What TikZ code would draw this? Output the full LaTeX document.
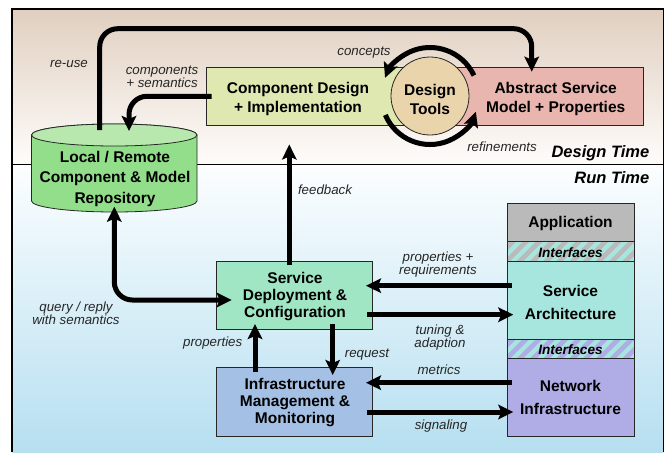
\documentclass[tikz,border=0pt]{standalone}
\usepackage{fontspec}
\setmainfont{Liberation Sans}
\usetikzlibrary{arrows.meta,calc}
\definecolor{timeA}{RGB}{224,207,192}
\definecolor{timeB}{RGB}{254,252,250}
\definecolor{runA}{RGB}{252,254,255}
\definecolor{runB}{RGB}{182,223,240}
\definecolor{compC}{RGB}{222,232,176}
\definecolor{absC}{RGB}{232,182,174}
\definecolor{toolC}{RGB}{234,212,172}
\definecolor{repoC}{RGB}{146,222,138}
\definecolor{repoT}{RGB}{184,232,174}
\definecolor{depC}{RGB}{160,230,196}
\definecolor{infC}{RGB}{164,192,228}
\definecolor{appC}{RGB}{186,186,186}
\definecolor{arcC}{RGB}{166,230,222}
\definecolor{netC}{RGB}{176,172,230}
\tikzset{
  x=1pt,y=1pt,
  box/.style={draw=black!85,line width=0.8pt,inner sep=0pt,outer sep=0pt,anchor=north west},
  title/.style={font=\fontsize{15.5}{#1}\selectfont\bfseries,align=center,inner sep=0pt,yshift=-1.2pt},
  title/.default=19,
  note/.style={font=\fontsize{13.3}{13}\selectfont\itshape,align=center,inner sep=0pt,text=black!85,yshift=-1.2pt},
  zone/.style={font=\fontsize{16.5}{17}\selectfont\bfseries\itshape,inner sep=0pt,anchor=east},
  iface/.style={font=\fontsize{13.6}{14}\selectfont\bfseries\itshape,inner sep=0pt,yshift=-0.6pt},
  flow/.style={line width=5pt,rounded corners=18pt,-{Stealth[length=15pt,width=14.5pt,inset=3pt]}},
  flowboth/.style={line width=5pt,rounded corners=18pt,{Stealth[length=15pt,width=14.5pt,inset=3pt]}-{Stealth[length=15pt,width=14.5pt,inset=3pt]}},
}
\begin{document}
\begin{tikzpicture}
\useasboundingbox (0,0) rectangle (668,-452);
\fill[white] (0,0) rectangle (668,-452);
% backgrounds
\shade[top color=timeA,bottom color=timeB] (12,-9) rectangle (663.5,-164);
\shade[top color=runA,bottom color=runB] (12,-164) rectangle (663.5,-452);
\draw[line width=0.8pt] (12,-164) -- (663.5,-164);
\draw[line width=1.6pt] (12,-452) -- (12,-9) -- (663.5,-9) -- (663.5,-452);
% boxes of the design row
\node[box,fill=compC,minimum width=224pt,minimum height=58.5pt] (comp) at (206.5,-67) {};
\node[box,fill=absC,minimum width=213.7pt,minimum height=58.5pt] (abs) at (430,-67) {};
\node[title] (compT) at (298,-98) {Component Design\\+ Implementation};
\node[title] (absT) at (555.7,-98) {Abstract Service\\Model + Properties};
\node[circle,draw=black!85,line width=0.8pt,fill=toolC,minimum size=78pt,inner sep=0pt] (tools) at (430,-96) {};
\node[title] (toolsT) at (430,-98) {Design\\Tools};
% repository
\draw[draw=black!85,line width=0.8pt,fill=repoC] (31.5,-135) -- (31.5,-201) arc[start angle=180,end angle=360,x radius=82.75pt,y radius=11pt] -- (197,-135) arc[start angle=0,end angle=180,x radius=82.75pt,y radius=11pt] -- cycle;
\draw[draw=black!85,line width=0.8pt,fill=repoT] (114.25,-135) ellipse[x radius=82.75pt,y radius=11pt];
\node[title=20.5] (repo) at (115,-177.5) {Local / Remote\\Component \& Model\\Repository};
% run time boxes
\node[box,fill=depC,minimum width=155.5pt,minimum height=68pt] (dep) at (216.5,-261.5) {};
\node[title=17] (depT) at (295,-295) {Service\\Deployment \&\\Configuration};
\node[box,fill=infC,minimum width=155.5pt,minimum height=68.3pt] (inf) at (216.5,-367.7) {};
\node[title=17] (infT) at (295,-401.2) {Infrastructure\\Management \&\\Monitoring};
% stack
\node[box,fill=appC,minimum width=126.7pt,minimum height=38.4pt] (app) at (507.3,-203.3) {};
\node[title] (appT) at (570.5,-222.5) {Application};
\node[box,fill=arcC,minimum width=126.7pt,minimum height=77.7pt] (arc) at (507.3,-261.3) {};
\node[title=23] (arcT) at (570.5,-301.5) {Service\\Architecture};
\node[box,fill=netC,minimum width=126.7pt,minimum height=77.3pt] (net) at (507.3,-358.7) {};
\node[title=23] (netT) at (570.5,-396.5) {Network\\Infrastructure};
% interface strips
\begin{scope}
\clip (507.3,-241.7) rectangle (634,-261.3);
\fill[arcC] (507.3,-241.7) rectangle (634,-261.3);
\foreach \i in {0,...,12}
  \fill[appC] (490+13.2*\i,-261.3) -- ++(6.6,0) -- ++(19.6,19.6) -- ++(-6.6,0) -- cycle;
\end{scope}
\begin{scope}
\clip (507.3,-339) rectangle (634,-358.7);
\fill[arcC] (507.3,-339) rectangle (634,-358.7);
\foreach \i in {0,...,12}
  \fill[netC] (490+13.2*\i,-358.7) -- ++(6.6,0) -- ++(19.7,19.7) -- ++(-6.7,0) -- cycle;
\end{scope}
\draw[draw=black!85,line width=0.8pt] (507.3,-241.7) rectangle (634,-261.3);
\draw[draw=black!85,line width=0.8pt] (507.3,-339) rectangle (634,-358.7);
\node[iface] (ifaceA) at (570.5,-252) {Interfaces};
\node[iface] (ifaceB) at (570.5,-349) {Interfaces};
% connectors
\coordinate (repoTop) at (99.7,-130);
\coordinate (repoIn) at (129,-131);
\coordinate (repoBot) at (114.3,-206.7);
\draw[flow] (repoTop) -- (99.7,-28.7) -- (531.7,-28.7) -- ([xshift=101.7pt,yshift=-4.7pt]abs.north west);
\draw[flow] ([xshift=5.2pt]comp.west) -- (129,-96.3) -- (repoIn);
\draw[flow] ([xshift=72.8pt,yshift=-3.5pt]dep.north west) -- ([xshift=82.8pt,yshift=-19pt]comp.south west);
\draw[flowboth] (repoBot) -- (114.3,-300) -- ([xshift=15.2pt,yshift=-38.5pt]dep.north west);
\draw[flow] ([xshift=38.5pt,yshift=-4.3pt]inf.north west) -- ([xshift=38.5pt,yshift=5.5pt]dep.south west);
\draw[flow] ([xshift=116.2pt,yshift=5.2pt]dep.south west) -- ([xshift=116.2pt,yshift=-7.3pt]inf.north west);
\draw[flow] ([xshift=5pt,yshift=-24.4pt]arc.north west) -- ([xshift=-6pt,yshift=-24.2pt]dep.north east);
\draw[flow] ([xshift=-4.7pt,yshift=-53.2pt]dep.north east) -- ([xshift=6pt,yshift=-53.4pt]arc.north west);
\draw[flow] ([xshift=5pt,yshift=-24pt]net.north west) -- ([xshift=-6pt,yshift=-15pt]inf.north east);
\draw[flow] ([xshift=-4.7pt,yshift=-44.3pt]inf.north east) -- ([xshift=6pt,yshift=-53.3pt]net.north west);
\draw[flow,rounded corners=0pt] ($(tools)+(25:48.5)$) arc[start angle=25,end angle=158,radius=48.5pt];
\draw[flow,rounded corners=0pt] ($(tools)+(203:48.5)$) arc[start angle=203,end angle=341,radius=48.5pt];
% labels
\node[note] (lReuse) at (69,-63) {re-use};
\node[note] (lComp) at (162,-75.5) {components\\+ semantics};
\node[note] (lConc) at (364,-51) {concepts};
\node[note] (lRef) at (502,-146) {refinements};
\node[note] (lFeed) at (325,-188.5) {feedback};
\node[note] (lQuery) at (76,-312.5) {query / reply\\with semantics};
\node[note] (lProp) at (212.7,-342) {properties};
\node[note] (lReq) at (367,-353) {request};
\node[note] (lMet) at (439,-369) {metrics};
\node[note] (lSig) at (441,-425) {signaling};
\node[note] (lTun) at (440,-336.5) {tuning \&\\adaption};
\node[note] (lPR) at (438,-263.5) {properties +\\requirements};
\node[zone] (zD) at (649.5,-153) {Design Time};
\node[zone] (zR) at (649.5,-178) {Run Time};
\end{tikzpicture}
\end{document}
